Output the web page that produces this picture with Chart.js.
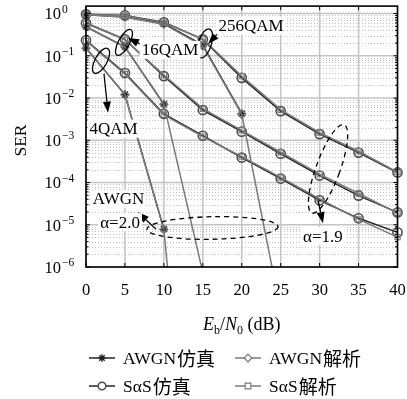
<!DOCTYPE html>
<html><head><meta charset="utf-8">
<script src="https://cdn.jsdelivr.net/npm/chart.js@4.4.1/dist/chart.umd.min.js"></script>
<style>html,body{margin:0;padding:0;background:#fff;}#wrap{width:407px;height:399px;position:relative;}</style>
</head><body><div id="wrap"><canvas id="c" width="407" height="399"></canvas></div>
<script>
// ---- data ----
const snr = [0, 5, 10, 15, 20, 25, 30, 35, 40];
const xTicks = [0, 5, 10, 15, 20, 25, 30, 35, 40];
const yExps = [0, -1, -2, -3, -4, -5, -6];

const awgn4Sim   = [0.152, 0.0121, 7.9e-6, null, null, null, null, null, null];
const awgn4Ana   = [0.151, 0.0119, 7.7e-6, 1.8e-15, null, null, null, null, null];
const awgn16Sim  = [0.49, 0.163, 0.0072, null, null, null, null, null, null];
const awgn16Ana  = [0.48, 0.160, 0.0070, 7.4e-7, 2e-19, null, null, null, null];
const awgn256Sim = [0.94, 0.84, 0.58, 0.18, 0.0043, null, null, null, null];
const awgn256Ana = [0.93, 0.82, 0.56, 0.17, 0.0041, 9.2e-8, 1e-20, null, null];

const sas4Sim    = [0.232, 0.039, 0.0042, 0.00128, 3.9e-4, 1.24e-4, 3.8e-5, 1.42e-5, 6.6e-6];
const sas4Ana    = [0.225, 0.037, 0.0040, 0.00122, 4.1e-4, 1.32e-4, 4.1e-5, 1.34e-5, 5.1e-6];
const sas16Sim   = [0.60, 0.245, 0.033, 0.0052, 0.0016, 4.8e-4, 1.46e-4, 4.9e-5, 1.96e-5];
const sas16Ana   = [0.58, 0.24, 0.035, 0.0056, 0.00172, 5.2e-4, 1.58e-4, 5.5e-5, 1.9e-5];
const sas256Sim  = [0.96, 0.90, 0.62, 0.245, 0.030, 0.0049, 0.0014, 5.1e-4, 1.73e-4];
const sas256Ana  = [0.95, 0.89, 0.61, 0.25, 0.033, 0.0053, 0.00152, 5.5e-4, 1.76e-4];

const legendLatin = ['AWGN', 'AWGN', 'SαS', 'SαS'];
const legendCJK = ['仿真', '解析', '仿真', '解析'];

// ---- styles ----
const SERIF = "'Liberation Serif','DejaVu Serif',serif";
const F = (sz, st) => `${st || ''} ${sz}px ${SERIF}, 'Noto Sans CJK SC'`;
const FC = sz => `${sz}px 'Noto Sans CJK SC', 'Noto Sans CJK JP', sans-serif`;
const SIM_C = '#262626', ANA_C = '#7a7a7a';
const kinds = {
  awgnSim: {borderColor: SIM_C, pointStyle: 'star', pointRadius: 4.2, pointBorderColor: '#222', pointBackgroundColor: '#222', pointBorderWidth: 1.4},
  awgnAna: {borderColor: ANA_C, pointStyle: 'rectRot', pointRadius: 4, pointBorderColor: '#777', pointBackgroundColor: 'rgba(255,255,255,0)', pointBorderWidth: 1.2},
  sasSim:  {borderColor: SIM_C, pointStyle: 'circle', pointRadius: 4.6, pointBorderColor: '#4a4a4a', pointBackgroundColor: 'rgba(255,255,255,0)', pointBorderWidth: 1.5},
  sasAna:  {borderColor: ANA_C, pointStyle: 'rect', pointRadius: 3.7, pointBorderColor: '#777', pointBackgroundColor: 'rgba(255,255,255,0)', pointBorderWidth: 1.2}
};
function mk(label, arr, kind) {
  return Object.assign({
    label, data: arr.map((v, i) => ({x: snr[i], y: v})),
    borderWidth: 1.5, tension: 0, fill: false, spanGaps: false,
    clip: {left: 6, right: 6, top: 6, bottom: 0}
  }, kinds[kind]);
}
const datasets = [
  mk('4QAM AWGN解析', awgn4Ana, 'awgnAna'), mk('16QAM AWGN解析', awgn16Ana, 'awgnAna'), mk('256QAM AWGN解析', awgn256Ana, 'awgnAna'),
  mk('4QAM SαS解析', sas4Ana, 'sasAna'), mk('16QAM SαS解析', sas16Ana, 'sasAna'), mk('256QAM SαS解析', sas256Ana, 'sasAna'),
  mk('4QAM AWGN仿真', awgn4Sim, 'awgnSim'), mk('16QAM AWGN仿真', awgn16Sim, 'awgnSim'), mk('256QAM AWGN仿真', awgn256Sim, 'awgnSim'),
  mk('4QAM SαS仿真', sas4Sim, 'sasSim'), mk('16QAM SαS仿真', sas16Sim, 'sasSim'), mk('256QAM SαS仿真', sas256Sim, 'sasSim')
];

// annotations in data coordinates
const ellipses = [
  {x: 4.88, y: 0.207, rx: 5.5, ry: 14.5, rot: 0.5, dash: false},
  {x: 1.93, y: 0.0759, rx: 6, ry: 14, rot: 0.5, dash: false},
  {x: 15.28, y: 0.196, rx: 6.5, ry: 15, rot: 0.3, dash: false},
  {x: 16.24, y: 8.4e-6, rx: 65.5, ry: 11.3, rot: -0.02, dash: true},
  {x: 31.08, y: 2.1e-4, rx: 12, ry: 47, rot: 0.35, dash: true}
];
const arrows = [
  {x1: 7.70, y1: 0.162, x2: 5.39, y2: 0.265},
  {x1: 2.31, y1: 0.0375, x2: 2.83, y2: 0.00451},
  {x1: 17.46, y1: 0.431, x2: 15.67, y2: 0.191},
  {x1: 8.99, y1: 7.87e-6, x2: 6.68, y2: 1.98e-5},
  {x1: 29.79, y1: 3.8e-5, x2: 30.43, y2: 1.09e-5}
];
const notes = [
  {t: '256QAM', x: 21.19, y: 0.521},
  {t: '16QAM', x: 10.79, y: 0.138},
  {t: '4QAM', x: 3.53, y: 1.89e-3},
  {t: 'AWGN', x: 4.17, y: 4.12e-5},
  {t: 'α=2.0', x: 4.37, y: 1.15e-5},
  {t: 'α=1.9', x: 30.43, y: 5.39e-6}
];

function seg(ctx, x1, y1, x2, y2) { ctx.beginPath(); ctx.moveTo(x1, y1); ctx.lineTo(x2, y2); ctx.stroke(); }

function marker(ctx, style, x, y, r) {
  ctx.beginPath();
  if (style === 'star') {
    for (let k = 0; k < 4; k++) {
      const a = k * Math.PI / 4;
      ctx.moveTo(x - r * Math.cos(a), y - r * Math.sin(a));
      ctx.lineTo(x + r * Math.cos(a), y + r * Math.sin(a));
    }
    ctx.stroke();
  } else if (style === 'circle') {
    ctx.arc(x, y, r, 0, Math.PI * 2); ctx.fillStyle = '#fff'; ctx.fill(); ctx.stroke();
  } else if (style === 'rect') {
    ctx.rect(x - r * 0.75, y - r * 0.75, r * 1.5, r * 1.5); ctx.fillStyle = '#fff'; ctx.fill(); ctx.stroke();
  } else if (style === 'rectRot') {
    ctx.moveTo(x, y - r); ctx.lineTo(x + r, y); ctx.lineTo(x, y + r); ctx.lineTo(x - r, y); ctx.closePath();
    ctx.fillStyle = '#fff'; ctx.fill(); ctx.stroke();
  }
}

const deco = {
  id: 'deco',
  beforeDatasetsDraw(chart) {
    const {ctx, chartArea: a, scales: {x, y}} = chart;
    ctx.save();
    ctx.lineWidth = 1;
    ctx.strokeStyle = '#c0c0c0';
    ctx.setLineDash([1, 2]);
    for (let e = -6; e < 0; e++) for (let m = 2; m <= 9; m++) {
      const py = Math.round(y.getPixelForValue(m * Math.pow(10, e))) + 0.5;
      seg(ctx, a.left, py, a.right, py);
    }
    ctx.setLineDash([]);
    ctx.strokeStyle = '#c4c4c4';
    ctx.lineWidth = 1.5;
    xTicks.forEach(v => { const px = x.getPixelForValue(v); seg(ctx, px, a.top, px, a.bottom); });
    yExps.forEach(e => { const py = y.getPixelForValue(Math.pow(10, e)); seg(ctx, a.left, py, a.right, py); });
    ctx.restore();
  },
  afterDatasetsDraw(chart) {
    const {ctx, chartArea: a, scales: {x, y}} = chart;
    ctx.save();
    // ticks
    ctx.strokeStyle = '#000'; ctx.lineWidth = 1;
    xTicks.forEach(v => {
      const px = x.getPixelForValue(v);
      seg(ctx, px, a.bottom, px, a.bottom - 4); seg(ctx, px, a.top, px, a.top + 4);
    });
    for (let e = -6; e <= 0; e++) {
      const py = y.getPixelForValue(Math.pow(10, e));
      seg(ctx, a.left, py, a.left + 4, py); seg(ctx, a.right, py, a.right - 4, py);
      if (e < 0) for (let m = 2; m <= 9; m++) {
        const q = y.getPixelForValue(m * Math.pow(10, e));
        seg(ctx, a.left, q, a.left + 2.5, q); seg(ctx, a.right, q, a.right - 2.5, q);
      }
    }
    // frame
    ctx.lineWidth = 1.6;
    ctx.strokeRect(a.left, a.top, a.right - a.left, a.bottom - a.top);

    // tick labels
    ctx.fillStyle = '#000';
    ctx.font = F(16.5);
    ctx.textAlign = 'center'; ctx.textBaseline = 'middle';
    xTicks.forEach(v => ctx.fillText(String(v), x.getPixelForValue(v), a.bottom + 24));
    yExps.forEach(e => {
      const py = y.getPixelForValue(Math.pow(10, e));
      ctx.font = F(16.5); ctx.textAlign = 'right'; ctx.textBaseline = 'middle';
      ctx.fillText('10', a.left - 25, py + 1.5);
      ctx.font = F(11.5); ctx.textAlign = 'left';
      ctx.fillText(e === 0 ? '0' : '\u2212' + (-e), a.left - 24, py - 4);
    });

    // axis titles
    ctx.save();
    ctx.translate(21, (a.top + a.bottom) / 2 + 4);
    ctx.rotate(-Math.PI / 2);
    ctx.font = F(17.5); ctx.textAlign = 'center'; ctx.textBaseline = 'middle';
    ctx.fillText('SER', 0, 0);
    ctx.restore();

    const parts = [
      {t: 'E', f: F(18, 'italic'), dy: 0},
      {t: 'b', f: F(12), dy: 4},
      {t: '/', f: F(18), dy: 0},
      {t: 'N', f: F(18, 'italic'), dy: 0},
      {t: '0', f: F(12), dy: 4},
      {t: ' (dB)', f: F(18), dy: 0}
    ];
    let tw = 0;
    parts.forEach(p => { ctx.font = p.f; p.w = ctx.measureText(p.t).width; tw += p.w; });
    let cx = (a.left + a.right) / 2 - tw / 2;
    ctx.textAlign = 'left'; ctx.textBaseline = 'alphabetic';
    parts.forEach(p => { ctx.font = p.f; ctx.fillText(p.t, cx, 330 + p.dy); cx += p.w; });

    // annotations
    ctx.strokeStyle = '#000'; ctx.lineWidth = 1.3;
    ellipses.forEach(el => {
      ctx.save();
      ctx.setLineDash(el.dash ? [5, 4] : []);
      ctx.beginPath();
      ctx.ellipse(x.getPixelForValue(el.x), y.getPixelForValue(el.y), el.rx, el.ry, el.rot, 0, Math.PI * 2);
      ctx.stroke();
      ctx.restore();
    });
    arrows.forEach(ar => {
      const x1 = x.getPixelForValue(ar.x1), y1 = y.getPixelForValue(ar.y1);
      const x2 = x.getPixelForValue(ar.x2), y2 = y.getPixelForValue(ar.y2);
      const ang = Math.atan2(y2 - y1, x2 - x1), L = 11, W = 4;
      const bx = x2 - L * Math.cos(ang), by = y2 - L * Math.sin(ang);
      ctx.lineWidth = 1.3;
      seg(ctx, x1, y1, bx, by);
      ctx.beginPath();
      ctx.moveTo(x2, y2);
      ctx.lineTo(bx + W * Math.sin(ang), by - W * Math.cos(ang));
      ctx.lineTo(bx - W * Math.sin(ang), by + W * Math.cos(ang));
      ctx.closePath(); ctx.fillStyle = '#000'; ctx.fill();
    });
    ctx.font = F(17); ctx.textAlign = 'center'; ctx.textBaseline = 'middle';
    notes.forEach(n => {
      const px = x.getPixelForValue(n.x), py = y.getPixelForValue(n.y);
      const w = ctx.measureText(n.t).width;
      ctx.fillStyle = '#fff';
      ctx.fillRect(px - w / 2 - 2, py - 9, w + 4, 18);
      ctx.fillStyle = '#000';
      ctx.fillText(n.t, px, py + 1);
    });

    // legend
    const items = [
      {k: kinds.awgnSim, col: 0, row: 0},
      {k: kinds.awgnAna, col: 1, row: 0},
      {k: kinds.sasSim, col: 0, row: 1},
      {k: kinds.sasAna, col: 1, row: 1}
    ];
    const colX = [89, 235], rowY = [358, 386];
    items.forEach((it, i) => {
      const lx = colX[it.col], ly = rowY[it.row];
      ctx.strokeStyle = it.k.borderColor; ctx.lineWidth = 1.5;
      seg(ctx, lx, ly, lx + 26, ly);
      ctx.strokeStyle = it.k.pointBorderColor; ctx.lineWidth = it.k.pointBorderWidth;
      marker(ctx, it.k.pointStyle, lx + 13, ly, 3.8);
      ctx.fillStyle = '#000'; ctx.textAlign = 'left'; ctx.textBaseline = 'middle';
      ctx.font = F(17.5);
      const tx = lx + 34;
      ctx.fillText(legendLatin[i], tx, ly + 1);
      const w = ctx.measureText(legendLatin[i]).width;
      ctx.font = FC(19);
      ctx.fillText(legendCJK[i], tx + w + 1, ly + 0.5);
    });
    ctx.restore();
  }
};

new Chart(document.getElementById('c'), {
  type: 'line',
  data: {datasets},
  options: {
    responsive: false, animation: false, events: [],
    devicePixelRatio: 1,
    layout: {padding: {left: 86, right: 9.5, top: 5, bottom: 132}},
    scales: {
      x: {type: 'linear', min: 0, max: 40, display: false},
      y: {type: 'logarithmic', min: 1e-6, max: 1.5, display: false}
    },
    plugins: {legend: {display: false}, tooltip: {enabled: false}}
  },
  plugins: [deco]
});
</script>
</body></html>
